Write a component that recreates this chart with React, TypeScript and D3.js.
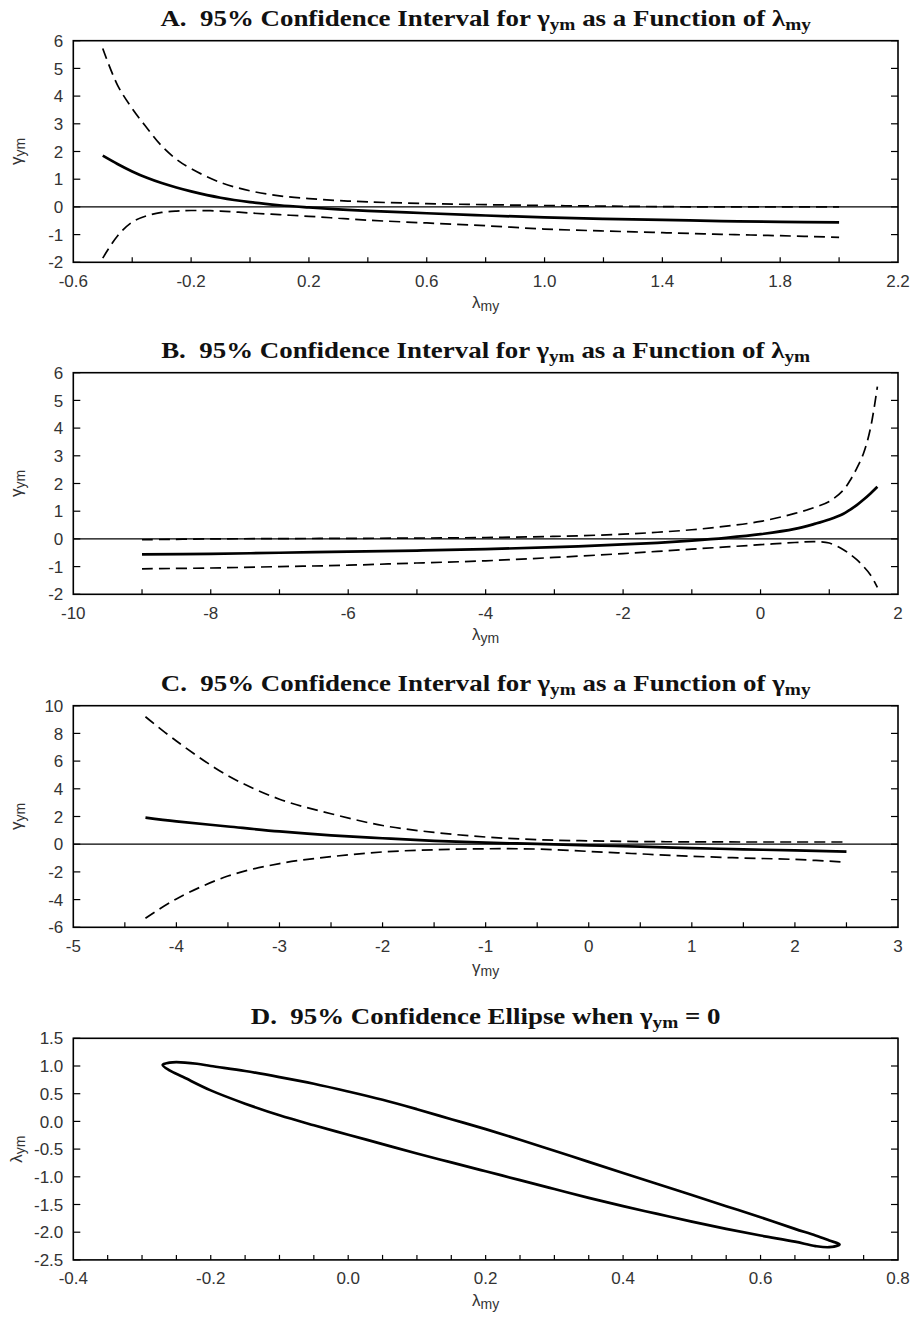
import * as d3 from 'd3';
import React from 'react';

// ---- Panel A: gamma_ym vs lambda_my ----
const aX = [-0.5, -0.45, -0.4, -0.35, -0.3, -0.25, -0.2, -0.1, 0, 0.1, 0.2, 0.3, 0.4, 0.6, 0.8, 1.0, 1.2, 1.4, 1.6, 1.8, 2.0];
const aEst = [1.85, 1.55, 1.28, 1.05, 0.86, 0.7, 0.56, 0.33, 0.17, 0.06, -0.02, -0.09, -0.14, -0.23, -0.31, -0.38, -0.43, -0.47, -0.51, -0.54, -0.56];
const aUpper = [5.72, 4.4, 3.55, 2.85, 2.2, 1.72, 1.38, 0.88, 0.58, 0.4, 0.3, 0.23, 0.18, 0.12, 0.08, 0.05, 0.03, 0.01, 0.0, 0.0, 0.0];
const aLower = [-1.85, -1.05, -0.55, -0.32, -0.2, -0.15, -0.13, -0.15, -0.22, -0.28, -0.34, -0.41, -0.48, -0.58, -0.68, -0.8, -0.87, -0.93, -0.99, -1.04, -1.1];
const aXLabels = [-0.6, -0.2, 0.2, 0.6, 1.0, 1.4, 1.8, 2.2];
const aYLabels = [-2, -1, 0, 1, 2, 3, 4, 5, 6];

// ---- Panel B: gamma_ym vs lambda_ym ----
const bX = [-9, -8, -7, -6, -5, -4, -3, -2, -1.5, -1, -0.5, 0, 0.5, 0.8, 1.0, 1.2, 1.3, 1.4, 1.5, 1.6, 1.7];
const bEst = [-0.56, -0.54, -0.5, -0.46, -0.42, -0.37, -0.3, -0.2, -0.14, -0.06, 0.04, 0.17, 0.36, 0.55, 0.7, 0.9, 1.05, 1.22, 1.42, 1.64, 1.88];
const bUpper = [-0.03, 0.0, 0.01, 0.02, 0.03, 0.05, 0.09, 0.17, 0.24, 0.33, 0.46, 0.63, 0.92, 1.15, 1.35, 1.75, 2.1, 2.55, 3.1, 4.0, 5.5];
const bLower = [-1.08, -1.05, -1.0, -0.95, -0.87, -0.79, -0.67, -0.53, -0.45, -0.37, -0.29, -0.21, -0.13, -0.1, -0.15, -0.38, -0.55, -0.75, -1.0, -1.3, -1.75];
const bXLabels = [-10, -8, -6, -4, -2, 0, 2];
const bYLabels = [-2, -1, 0, 1, 2, 3, 4, 5, 6];

// ---- Panel C: gamma_ym vs gamma_my ----
const cX = [-4.3, -4.0, -3.5, -3.0, -2.5, -2.0, -1.5, -1.0, -0.5, 0, 0.5, 1.0, 1.5, 2.0, 2.5];
const cEst = [1.92, 1.65, 1.28, 0.92, 0.64, 0.43, 0.24, 0.11, 0.02, -0.08, -0.18, -0.28, -0.37, -0.45, -0.53];
const cUpper = [9.2, 7.45, 4.95, 3.25, 2.2, 1.35, 0.85, 0.52, 0.33, 0.24, 0.19, 0.17, 0.16, 0.16, 0.16];
const cLower = [-5.35, -3.95, -2.3, -1.4, -0.9, -0.56, -0.4, -0.33, -0.35, -0.52, -0.7, -0.87, -1.0, -1.1, -1.3];
const cXLabels = [-5, -4, -3, -2, -1, 0, 1, 2, 3];
const cYLabels = [-6, -4, -2, 0, 2, 4, 6, 8, 10];

// ---- Panel D: confidence ellipse, lambda_ym vs lambda_my ----
// upper edge left -> right, then lower edge right -> left
const dX = [-0.27, -0.26, -0.25, -0.22, -0.2, -0.15, -0.1, -0.05, 0, 0.05, 0.1, 0.15, 0.2, 0.25, 0.3, 0.35, 0.4, 0.45, 0.5, 0.55, 0.6, 0.65, 0.68, 0.7, 0.715,
  0.7, 0.68, 0.65, 0.6, 0.55, 0.5, 0.45, 0.4, 0.35, 0.3, 0.25, 0.2, 0.15, 0.1, 0.05, 0, -0.05, -0.1, -0.15, -0.2, -0.24, -0.26];
const dY = [1.02, 1.06, 1.07, 1.04, 1.0, 0.91, 0.8, 0.68, 0.54, 0.39, 0.22, 0.04, -0.14, -0.33, -0.53, -0.73, -0.93, -1.13, -1.33, -1.53, -1.73, -1.94, -2.06, -2.15, -2.22,
  -2.27, -2.25, -2.17, -2.06, -1.94, -1.81, -1.67, -1.53, -1.38, -1.22, -1.06, -0.9, -0.74, -0.58, -0.41, -0.24, -0.07, 0.11, 0.32, 0.56, 0.8, 0.92];
const dXLabels = [-0.4, -0.2, 0.0, 0.2, 0.4, 0.6, 0.8];
const dYLabels = [-2.5, -2.0, -1.5, -1.0, -0.5, 0.0, 0.5, 1.0, 1.5];

const L = 73.3;
const R = 898;
const PH = 221.6;
const TICK_FONT = '"Liberation Sans", Arial, sans-serif';
const TITLE_FONT = '"Liberation Serif", "Times New Roman", serif';

type Series = { xs: number[]; ys: number[]; kind: 'solid' | 'dashed' | 'closed' };

function Sym({ main, sub, size, subSize, shift }: any) {
  return (
    <>
      <tspan fontSize={size}>{main}</tspan>
      <tspan fontSize={subSize} dy={shift}>{sub}</tspan>
    </>
  );
}

function Panel(props: {
  top: number; xDomain: [number, number]; yDomain: [number, number];
  xLabels: number[]; xMinorStep: number; yLabels: number[]; dx: number; dy: number;
  series: Series[]; zero: boolean; title: React.ReactNode; xSym: [string, string]; ySym: [string, string];
}) {
  const { top, xDomain, yDomain, xLabels, xMinorStep, yLabels, dx, dy, series, zero } = props;
  const x = d3.scaleLinear().domain(xDomain).range([L, R]);
  const y = d3.scaleLinear().domain(yDomain).range([top + PH, top]);
  const bottom = top + PH;
  const n = Math.round((xDomain[1] - xDomain[0]) / xMinorStep);
  const minor = d3.range(1, n).map((i) => xDomain[0] + i * xMinorStep);

  const pathFor = (s: Series) => {
    const pts = s.xs.map((v, i) => [x(v), y(s.ys[i])] as [number, number]);
    const gen = d3.line().curve(s.kind === 'closed' ? d3.curveCatmullRomClosed : d3.curveCatmullRom);
    return gen(pts) || '';
  };

  return (
    <g>
      <text transform={`translate(${(L + R) / 2},${top - 14.5}) scale(1.17,1)`} textAnchor="middle"
        fontFamily={TITLE_FONT} fontWeight="bold" fontSize={23} fill="#111" style={{ whiteSpace: 'pre' }}>
        {props.title}
      </text>
      {series.map((s, i) => (
        <path key={i} d={pathFor(s)} fill="none" stroke="#000"
          strokeWidth={s.kind === 'dashed' ? 1.7 : 2.7}
          strokeDasharray={s.kind === 'dashed' ? '11,6' : undefined}
          strokeLinejoin="round" />
      ))}
      {zero && <line x1={L} x2={R} y1={y(0)} y2={y(0)} stroke="#000" strokeWidth={1.2} />}
      <rect x={L} y={top} width={R - L} height={PH} fill="none" stroke="#000" strokeWidth={1.6} />
      {minor.map((v, i) => (
        <line key={'mx' + i} x1={x(v)} x2={x(v)} y1={bottom} y2={bottom - 5} stroke="#000" strokeWidth={1.2} />
      ))}
      {yLabels.map((v, i) => (
        <g key={'y' + i}>
          <line x1={L} x2={L + 7} y1={y(v)} y2={y(v)} stroke="#000" strokeWidth={1.2} />
          <line x1={R} x2={R - 7} y1={y(v)} y2={y(v)} stroke="#000" strokeWidth={1.2} />
          <text x={L - 10} y={y(v)} dy="0.36em" textAnchor="end" fontFamily={TICK_FONT} fontSize={17} fill="#333">
            {v.toFixed(dy)}
          </text>
        </g>
      ))}
      {xLabels.map((v, i) => (
        <text key={'x' + i} x={x(v)} y={bottom + 24.5} textAnchor="middle" fontFamily={TICK_FONT} fontSize={17} fill="#333">
          {v.toFixed(dx)}
        </text>
      ))}
      <text x={(L + R) / 2} y={bottom + 46} textAnchor="middle" fontFamily={TICK_FONT} fill="#333">
        <Sym main={props.xSym[0]} sub={props.xSym[1]} size={17} subSize={14} shift={3} />
      </text>
      <text transform={`translate(22,${top + PH / 2}) rotate(-90)`} textAnchor="middle" fontFamily={TICK_FONT} fill="#333">
        <Sym main={props.ySym[0]} sub={props.ySym[1]} size={17} subSize={14} shift={3} />
      </text>
    </g>
  );
}

function Title({ pre, g1, s1, mid, g2, s2 }: any) {
  return (
    <>
      <tspan>{pre}</tspan>
      <tspan>{g1}</tspan>
      <tspan fontSize={16.5} dy={4}>{s1}</tspan>
      <tspan dy={-4}>{mid}</tspan>
      {g2 && <tspan>{g2}</tspan>}
      {s2 && <tspan fontSize={16.5} dy={4}>{s2}</tspan>}
    </>
  );
}

export default function App() {
  const tops = [40.7, 372.7, 705.7, 1038.3];
  return (
    <svg width={916} height={1318} style={{ position: 'absolute', left: 0, top: 0, background: '#fff' }}>
      <rect width={916} height={1318} fill="#fff" />
      <Panel top={tops[0]} xDomain={[-0.6, 2.2]} yDomain={[-2, 6]} xLabels={aXLabels} xMinorStep={0.2}
        yLabels={aYLabels} dx={1} dy={0} zero xSym={['λ', 'my']} ySym={['γ', 'ym']}
        title={<Title pre="A.  95% Confidence Interval for " g1="γ" s1="ym" mid=" as a Function of " g2="λ" s2="my" />}
        series={[
          { xs: aX, ys: aUpper, kind: 'dashed' },
          { xs: aX, ys: aLower, kind: 'dashed' },
          { xs: aX, ys: aEst, kind: 'solid' },
        ]} />
      <Panel top={tops[1]} xDomain={[-10, 2]} yDomain={[-2, 6]} xLabels={bXLabels} xMinorStep={1}
        yLabels={bYLabels} dx={0} dy={0} zero xSym={['λ', 'ym']} ySym={['γ', 'ym']}
        title={<Title pre="B.  95% Confidence Interval for " g1="γ" s1="ym" mid=" as a Function of " g2="λ" s2="ym" />}
        series={[
          { xs: bX, ys: bUpper, kind: 'dashed' },
          { xs: bX, ys: bLower, kind: 'dashed' },
          { xs: bX, ys: bEst, kind: 'solid' },
        ]} />
      <Panel top={tops[2]} xDomain={[-5, 3]} yDomain={[-6, 10]} xLabels={cXLabels} xMinorStep={0.5}
        yLabels={cYLabels} dx={0} dy={0} zero xSym={['γ', 'my']} ySym={['γ', 'ym']}
        title={<Title pre="C.  95% Confidence Interval for " g1="γ" s1="ym" mid=" as a Function of " g2="γ" s2="my" />}
        series={[
          { xs: cX, ys: cUpper, kind: 'dashed' },
          { xs: cX, ys: cLower, kind: 'dashed' },
          { xs: cX, ys: cEst, kind: 'solid' },
        ]} />
      <Panel top={tops[3]} xDomain={[-0.4, 0.8]} yDomain={[-2.5, 1.5]} xLabels={dXLabels} xMinorStep={0.05}
        yLabels={dYLabels} dx={1} dy={1} zero={false} xSym={['λ', 'my']} ySym={['λ', 'ym']}
        title={<Title pre="D.  95% Confidence Ellipse when " g1="γ" s1="ym" mid=" = 0" />}
        series={[{ xs: dX, ys: dY, kind: 'closed' }]} />
    </svg>
  );
}
